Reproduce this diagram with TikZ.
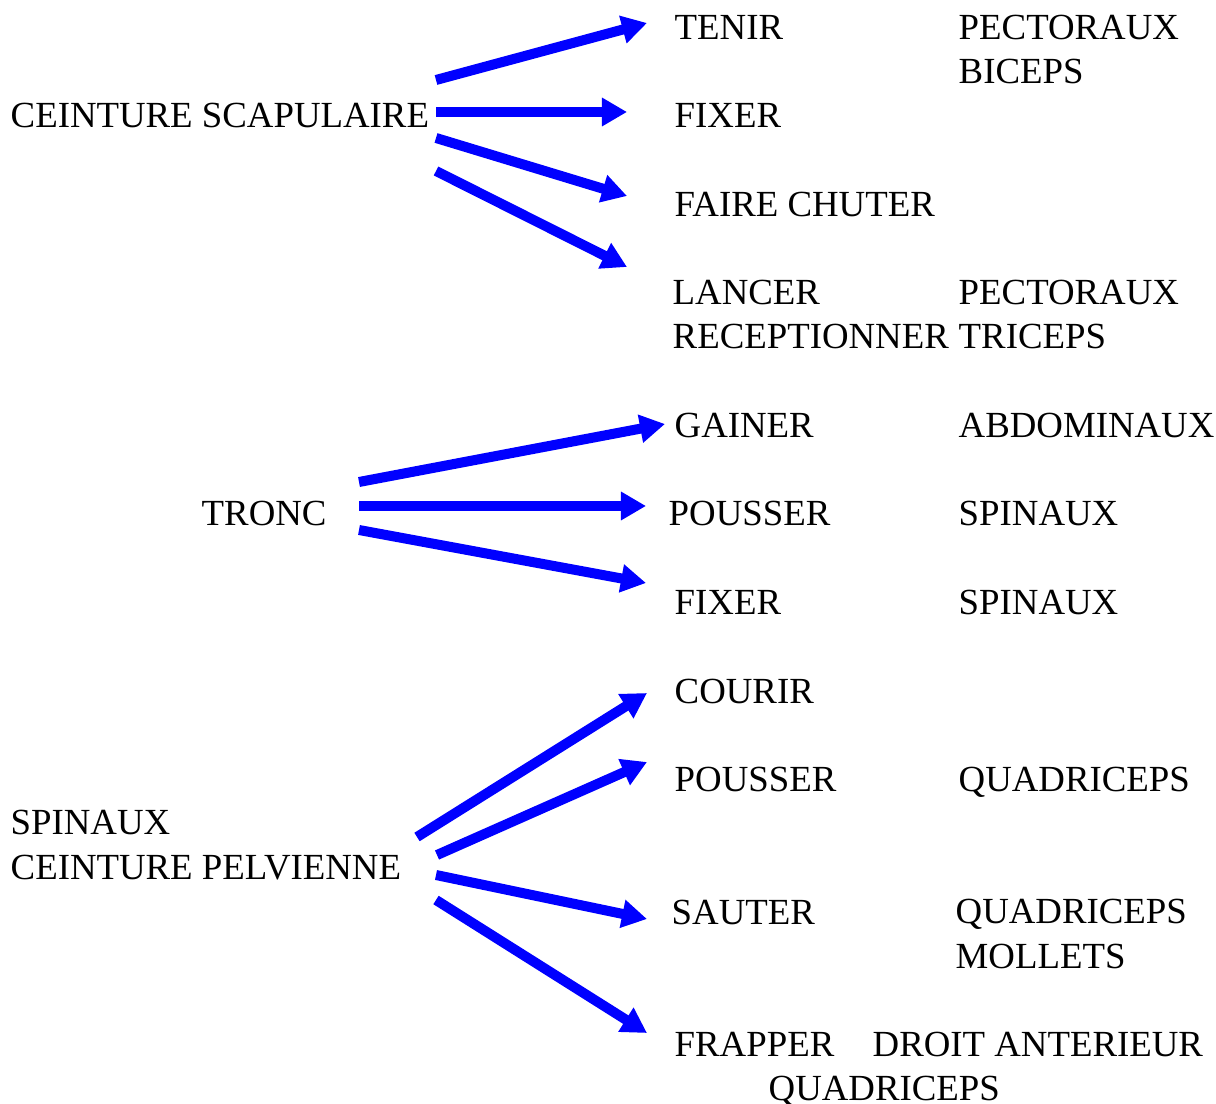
\documentclass[tikz,border=0pt]{standalone}
\usepackage{fontspec}
\setmainfont{Liberation Serif}
\usetikzlibrary{arrows.meta}

\tikzset{
	mot/.style={anchor=base west, inner sep=0pt, align=left,
		font=\fontsize{10.47}{12.57}\selectfont},
	fleche/.style={draw=blue, line width=0.1cm,
		-{Triangle[length=0.25cm, width=0.27cm]}},
}

\begin{document}
\begin{tikzpicture}[x=0.01cm, y=-0.01cm]
	\useasboundingbox (0,0) rectangle (1216,1104);

	% groupes musculaires (base = derniere ligne)
	\node[mot] (scap) at (10,128) {CEINTURE SCAPULAIRE};
	\node[mot] (tronc) at (201,526) {TRONC};
	\node[mot] (pelv) at (10,879) {SPINAUX\\CEINTURE PELVIENNE};

	% actions
	\node[mot] (tenir) at (674,40) {TENIR};
	\node[mot] (fixer) at (674,128) {FIXER};
	\node[mot] (chuter) at (674,217) {FAIRE CHUTER};
	\node[mot] (lancer) at (672,349) {LANCER\\RECEPTIONNER};
	\node[mot] (gainer) at (674,438) {GAINER};
	\node[mot] (pousser) at (668,526) {POUSSER};
	\node[mot] (fixerb) at (674,614) {FIXER};
	\node[mot] (courir) at (674,703) {COURIR};
	\node[mot] (pousserb) at (674,791) {POUSSER};
	\node[mot] (sauter) at (671,924) {SAUTER};
	\node[mot] (frapper) at (674,1056) {FRAPPER};

	% muscles
	\node[mot] (m-tenir) at (958,84) {PECTORAUX\\BICEPS};
	\node[mot] (m-lancer) at (958,349) {PECTORAUX\\TRICEPS};
	\node[mot] (m-gainer) at (958,438) {ABDOMINAUX};
	\node[mot] (m-pousser) at (958,526) {SPINAUX};
	\node[mot] (m-fixerb) at (958,614) {SPINAUX};
	\node[mot] (m-pousserb) at (958,791) {QUADRICEPS};
	\node[mot] (m-sauter) at (955,968) {QUADRICEPS\\MOLLETS};
	\node[mot] (m-frapper) at (872,1056) {DROIT ANTERIEUR};
	\node[mot] (m-frapperb) at (768,1100) {QUADRICEPS};

	% fleches
	\foreach \n/\xa/\ya/\xb/\yb in {tenir/436/80/647/23, fixer/436/112/627/112,
		chuter/436/138/627/196, lancer/436/171/627/267,
		gainer/359/482/665/424, pousser/359/506/646/506, fixerb/359/530/646/583,
		courir/417/837/647/693, pousserb/437/855/647/762,
		sauter/436/875/647/919, frapper/436/900/647/1033}{
		\coordinate (d-\n) at (\xa,\ya);
		\coordinate (f-\n) at (\xb,\yb);
		\draw[fleche] (d-\n) -- (f-\n);
	}
\end{tikzpicture}
\end{document}
